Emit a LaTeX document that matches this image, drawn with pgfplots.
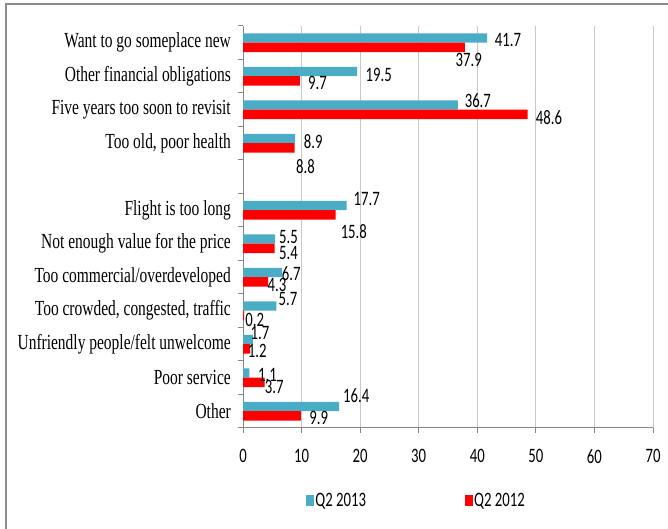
\documentclass[border=0pt]{standalone}
\usepackage{fontspec}
\setmainfont{Liberation Serif}[FakeStretch=0.72]
\newfontfamily\lab{Carlito}[FakeStretch=0.72]
\usepackage{pgfplots}
\pgfplotsset{compat=1.18}
\usepackage{pgfplotstable}
\definecolor{c13}{HTML}{4BACC6}
\definecolor{c12}{HTML}{FF0000}
\definecolor{axgray}{HTML}{868686}
\definecolor{gridgray}{HTML}{C8C8C8}
\definecolor{framegray}{HTML}{8C8C8C}

% Q2 2013
\pgfplotstableread{
y  v     dx    dy
11 41.7  20.8  -1.9
10 19.5  21.5  -3.4
9  36.7  19.9   4.3
8  8.9   18.1  -3.1
6  17.7  20.0   6.6
5  5.5   13.3   1.9
4  6.7    9.0  -1.1
3  5.7   11.6   7.4
2  1.7    7.0   6.3
1  1.1   18.1  -1.9
0  16.4  17.2  10.6
}\tA
% Q2 2012
\pgfplotstableread{
y  v     dx    dy
11 37.9   3.7 -12.6
10 9.7   17.7  -2.4
9  48.6  21.3  -3.1
8  8.8   11.0 -18.8
6  15.8  18.3 -16.4
5  5.4   13.9  -4.4
4  4.3    8.8  -2.6
3  0.2   10.5  -4.6
2  1.2    7.2  -2.4
1  3.7    9.6  -4.3
0  9.9   17.8  -2.4
}\tB

\begin{document}
\begin{tikzpicture}
\useasboundingbox (0,0) rectangle (668pt,529pt);
\draw[framegray, line width=1.3pt] (6pt,-2pt) -- (6pt,525pt) -- (672pt,525pt);
\begin{axis}[
  at={(243pt,101pt)}, anchor=south west,
  scale only axis, width=410pt, height=402pt,
  xbar, bar width=9.3pt,
  xmin=0, xmax=70, ymin=-0.5, ymax=11.5,
  axis x line*=bottom, axis y line*=left,
  axis line style={axgray, line width=1pt, -},
  xtick={0,10,...,70},
  xmajorgrids, grid style={gridgray, line width=1pt},
  tick align=outside, major tick length=5pt,
  tick style={axgray, line width=1pt},
  ytick={-0.5,0.5,...,11.5}, yticklabels={},
  extra y ticks={0,1,2,3,4,5,6,8,9,10,11},
  extra y tick labels={Other,Poor service,Unfriendly people/felt unwelcome,{Too crowded, congested, traffic},Too commercial/overdeveloped,Not enough value for the price,Flight is too long,{Too old, poor health},Five years too soon to revisit,Other financial obligations,Want to go someplace new},
  extra y tick style={tick style={draw=none},
    yticklabel style={font=\fontsize{21.5}{24}\selectfont, inner sep=0pt, anchor=east, xshift=-7pt}},
  xticklabel style={font=\fontsize{20.5}{24}\lab, inner sep=0pt, yshift=-16pt},
  /pgf/number format/assume math mode=true,
  legend columns=2,
  legend style={at={(axis description cs:0.153,-0.18)}, anchor=west, draw=none, fill=none,
    font=\fontsize{20.5}{24}\lab, inner sep=0pt, nodes={inner sep=1.5pt},
    /tikz/column 2/.style={column sep=97pt}},
  legend image code/.code={\fill[#1] (0pt,-5.5pt) rectangle (8pt,5.5pt);},
  point meta=x,
]
\addplot[fill=c13, draw=none, bar shift=4.65pt,
  visualization depends on={\thisrow{dx} \as \myDx},
  visualization depends on={\thisrow{dy} \as \myDy},
  nodes near coords={\pgfmathprintnumber[fixed,fixed zerofill,precision=1,assume math mode=true]{\pgfplotspointmeta}},
  every node near coord/.append style={font=\fontsize{20.5}{24}\lab, text=black, inner sep=0pt, anchor=center, xshift=\myDx pt, yshift=\myDy pt}]
  table[x=v, y=y] {\tA};
\addplot[fill=c12, draw=none, bar shift=-4.65pt,
  visualization depends on={\thisrow{dx} \as \myDx},
  visualization depends on={\thisrow{dy} \as \myDy},
  nodes near coords={\pgfmathprintnumber[fixed,fixed zerofill,precision=1,assume math mode=true]{\pgfplotspointmeta}},
  every node near coord/.append style={font=\fontsize{20.5}{24}\lab, text=black, inner sep=0pt, anchor=center, xshift=\myDx pt, yshift=\myDy pt}]
  table[x=v, y=y] {\tB};
\legend{Q2 2013, Q2 2012}
\end{axis}
\end{tikzpicture}
\end{document}
